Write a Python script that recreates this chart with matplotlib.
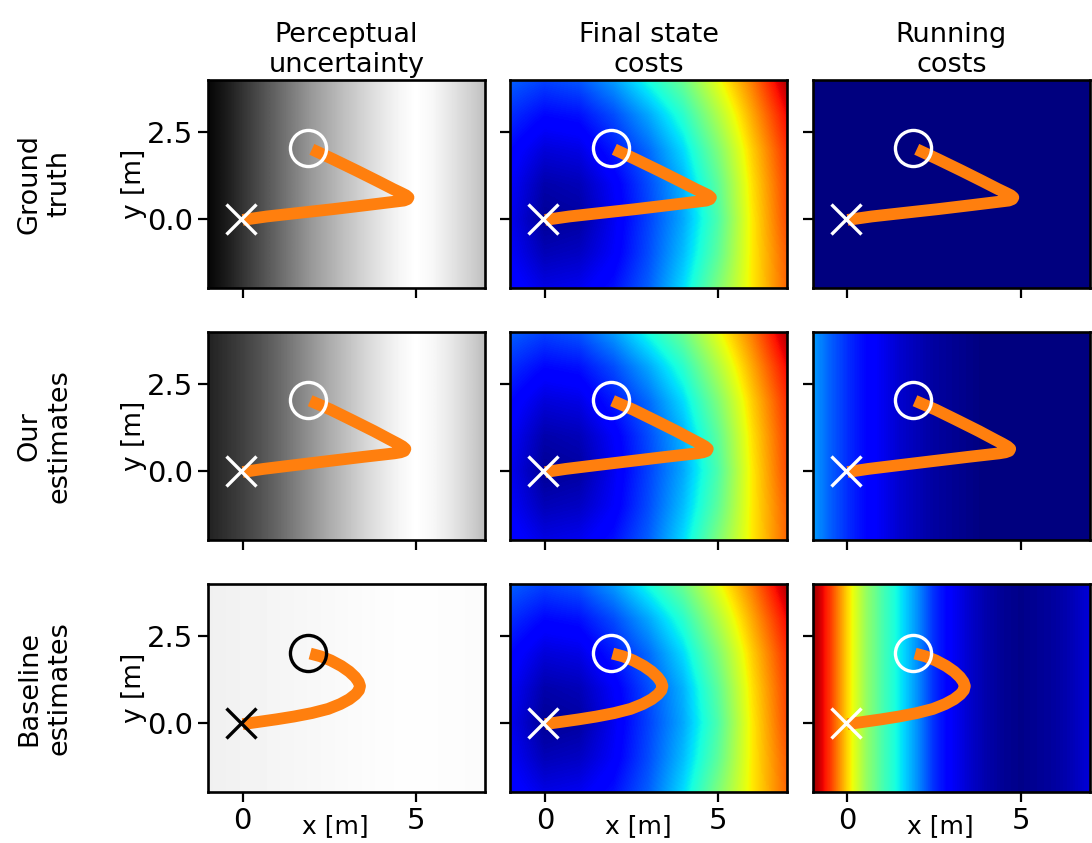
import numpy as np
import matplotlib
matplotlib.use('Agg')
import matplotlib.pyplot as plt

col_titles = ['Perceptual\nuncertainty', 'Final state\ncosts', 'Running\ncosts']
row_labels = ['Ground\ntruth', 'Our\nestimates', 'Baseline\nestimates']

# 1D profiles along x (field is constant in y)
profile_x = [-1, -0.5, 0, 0.5, 1, 1.5, 2, 2.5, 3, 3.5, 4, 4.5, 5, 5.5, 6, 6.5, 7]
unc_truth = [0.02, 0.10, 0.20, 0.30, 0.40, 0.50, 0.60, 0.68, 0.76, 0.83, 0.90, 0.96, 1.00, 0.97, 0.90, 0.83, 0.75]
unc_ours = [0.13, 0.19, 0.25, 0.32, 0.40, 0.49, 0.58, 0.67, 0.75, 0.83, 0.90, 0.96, 1.00, 0.97, 0.91, 0.83, 0.74]
unc_base = [0.94, 0.945, 0.95, 0.955, 0.96, 0.965, 0.97, 0.975, 0.98, 0.985, 0.99, 0.993, 0.995, 0.993, 0.99, 0.988, 0.985]
run_truth = [0.0] * 17
run_ours = [0.28, 0.22, 0.17, 0.13, 0.10, 0.07, 0.05, 0.03, 0.02, 0.01, 0.0, 0.0, 0.0, 0.0, 0.0, 0.0, 0.0]
run_base = [0.98, 0.85, 0.68, 0.54, 0.44, 0.36, 0.27, 0.17, 0.11, 0.07, 0.04, 0.02, 0.01, 0.02, 0.03, 0.05, 0.08]

# 2D final state cost grid (rows: y=-2..4, cols: x=-1..7)
grid_x = [-1, 0, 1, 2, 3, 4, 5, 6, 7]
grid_y = [-2, -1, 0, 1, 2, 3, 4]
final_truth = [
    [0.13, 0.09, 0.10, 0.14, 0.22, 0.34, 0.50, 0.66, 0.80],
    [0.11, 0.05, 0.06, 0.11, 0.20, 0.31, 0.46, 0.66, 0.81],
    [0.10, 0.02, 0.03, 0.10, 0.19, 0.29, 0.44, 0.66, 0.83],
    [0.11, 0.04, 0.05, 0.11, 0.20, 0.30, 0.46, 0.67, 0.84],
    [0.13, 0.08, 0.09, 0.15, 0.23, 0.34, 0.50, 0.69, 0.86],
    [0.17, 0.13, 0.14, 0.20, 0.29, 0.40, 0.56, 0.73, 0.90],
    [0.22, 0.19, 0.21, 0.28, 0.38, 0.48, 0.63, 0.78, 0.96],
]
final_ours = final_truth
final_base = final_truth

# trajectories
traj_truth_x = [2.0, 2.6, 3.3, 3.9, 4.35, 4.58, 4.72, 4.79, 4.76, 4.66, 4.5, 3.6, 2.6, 1.6, 0.7, 0.0]
traj_truth_y = [2.0, 1.72, 1.38, 1.08, 0.85, 0.74, 0.67, 0.61, 0.56, 0.52, 0.50, 0.39, 0.27, 0.16, 0.06, -0.04]
traj_ours_x = [1.95, 2.55, 3.2, 3.8, 4.25, 4.48, 4.62, 4.70, 4.67, 4.56, 4.38, 3.5, 2.5, 1.5, 0.6, 0.0]
traj_ours_y = [2.02, 1.76, 1.44, 1.14, 0.90, 0.78, 0.70, 0.63, 0.57, 0.53, 0.50, 0.40, 0.28, 0.16, 0.05, -0.04]
traj_base_x = [1.95, 2.25, 2.55, 2.85, 3.08, 3.25, 3.35, 3.39, 3.36, 3.26, 3.08, 2.82, 2.47, 2.0, 1.48, 0.98, 0.49, 0.0]
traj_base_y = [2.0, 1.92, 1.80, 1.64, 1.48, 1.32, 1.18, 1.06, 0.94, 0.82, 0.68, 0.54, 0.40, 0.28, 0.18, 0.10, 0.03, -0.04]
start_xy = (1.9, 2.03)
goal_xy = (-0.05, -0.02)

fields = [
    [unc_truth, final_truth, run_truth],
    [unc_ours, final_ours, run_ours],
    [unc_base, final_base, run_base],
]
trajs = [(traj_truth_x, traj_truth_y), (traj_ours_x, traj_ours_y), (traj_base_x, traj_base_y)]
cmaps = ['gray', 'jet', 'jet']

fig, axes = plt.subplots(3, 3, figsize=(10.92, 8.43), dpi=100, sharex=True, sharey=True)
fig.subplots_adjust(left=0.1905, right=0.998, bottom=0.0605, top=0.905, wspace=0.092, hspace=0.214)

px = np.array(profile_x)
dpx = px[1] - px[0]
gx = np.array(grid_x)
gy = np.array(grid_y)

for r in range(3):
    for c in range(3):
        ax = axes[r, c]
        data = fields[r][c]
        if c == 1:
            z = np.array(data)
            ext = [gx[0] - 0.5, gx[-1] + 0.5, gy[0] - 0.5, gy[-1] + 0.5]
        else:
            z = np.vstack([data, data])
            ext = [px[0] - dpx / 2, px[-1] + dpx / 2, -2, 4]
        ax.imshow(z, cmap=cmaps[c], vmin=0, vmax=1, origin='lower', extent=ext,
                  interpolation='bilinear', interpolation_stage='data', aspect='auto')
        tx, ty = trajs[r]
        ax.plot(tx, ty, color='#ff7f0e', lw=8.5, solid_capstyle='butt', solid_joinstyle='round', zorder=3)
        mc = 'black' if (r == 2 and c == 0) else 'white'
        ax.plot(*start_xy, marker='o', ms=26, mfc='none', mec=mc, mew=2.4, zorder=4)
        ax.plot(*goal_xy, marker='x', ms=21, mec=mc, mew=2.4, zorder=4)
        ax.set_xlim(-1, 7)
        ax.set_ylim(-2, 4)
        ax.set_xticks([0, 5])
        ax.set_yticks([0, 2.5])
        ax.set_xticklabels(['0', '5'])
        ax.set_yticklabels(['0.0', '2.5'])
        ax.tick_params(labelsize=21, length=7, width=1.6)
        for s in ax.spines.values():
            s.set_linewidth(1.9)
        if r == 0:
            ax.set_title(col_titles[c], fontsize=19.5, pad=6)
        if c == 0:
            ax.set_ylabel('y [m]', fontsize=19, labelpad=0)
            ax.text(-0.59, 0.5, row_labels[r], transform=ax.transAxes, rotation=90,
                    ha='center', va='center', fontsize=19.5, multialignment='center')
        if r == 2:
            ax.set_xlabel('x [m]', fontsize=18)
            ax.xaxis.set_label_coords(0.46, -0.105)
        ax.label_outer()

fig.savefig('out.png', dpi=100)
